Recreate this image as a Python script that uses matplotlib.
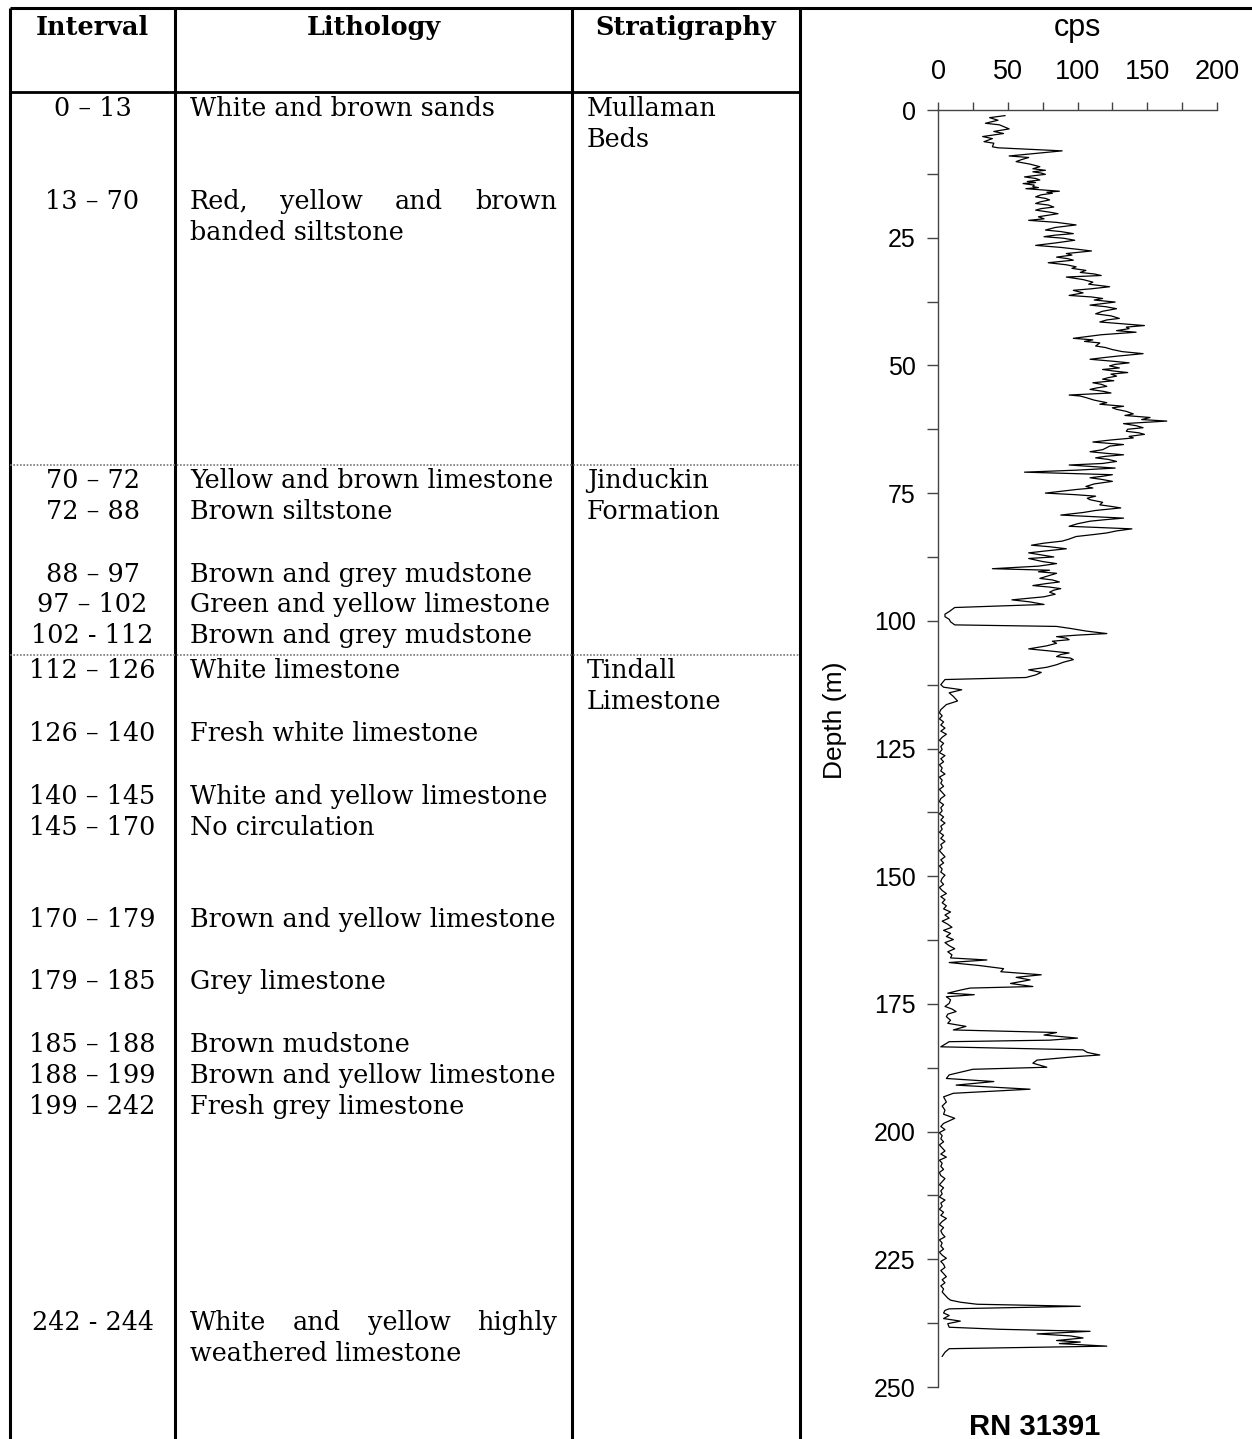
import matplotlib
matplotlib.use("Agg")
import matplotlib.pyplot as plt
from matplotlib.ticker import MultipleLocator

W, H = 1252, 1439

# gamma log for bore RN 31391: depth (m) and count rate (cps)
DEPTH = [
    1.1, 1.5, 2.0, 2.6, 2.9, 3.7, 4.2, 4.6, 5.2, 5.6, 6.2, 6.5, 7.2, 7.4,
    8.0, 8.5, 9.0, 9.3, 9.7, 10.1, 10.6, 11.1, 11.5, 11.8, 12.1, 12.35, 12.6, 12.85, 13.1,
    13.4, 13.7, 14.0, 14.2, 14.4, 14.7, 15.0, 15.2, 15.4, 15.9, 16.1, 16.3, 16.6, 17.0, 17.3,
    17.6, 18.0, 18.3, 18.6, 19.0, 19.3, 19.6, 20.0, 20.3, 20.9, 21.3, 21.6, 22.0, 22.5, 23.0,
    23.5, 23.8, 24.2, 24.5, 24.8, 25.1, 25.5, 26.0, 26.5, 26.9, 27.3, 27.6, 28.1, 28.4, 28.8,
    29.1, 29.4, 29.9, 30.3, 30.7, 31.0, 31.4, 31.8, 32.1, 32.4, 32.7, 33.2, 33.7, 34.1, 34.6,
    35.0, 35.3, 35.8, 36.3, 36.6, 36.9, 37.2, 37.6, 38.2, 38.5, 38.9, 39.4, 39.9, 40.3, 40.8,
    41.1, 41.5, 42.2, 42.5, 42.8, 43.2, 43.5, 44.0,
    44.7, 45.0, 45.3, 45.6, 46.2, 46.5, 46.9, 47.3, 47.7, 48.2, 48.5, 48.8, 49.2, 49.5, 49.8,
    50.1, 50.5, 50.8, 51.1, 51.4, 51.7, 52.1, 52.4, 52.7, 53.0, 53.4, 53.7, 54.1, 54.4, 54.7,
    55.1, 55.4, 55.8, 56.0, 56.3, 56.8, 57.3, 57.6, 58.0, 58.3, 58.6, 59.0, 59.5, 59.8, 60.2,
    60.6, 60.9, 61.4, 61.8, 62.2, 62.5, 62.9, 63.2, 63.5, 63.9, 64.2, 64.6, 65.0, 65.5, 65.8,
    66.1, 66.5, 66.9, 67.2, 67.5, 67.8, 68.1, 68.4, 68.8, 69.2, 69.5, 70.1, 70.5, 70.9, 71.4,
    71.7, 72.0, 72.3, 72.7, 73.2, 73.7, 74.0, 74.3, 75.0, 75.3, 75.6, 76.0, 76.3, 76.8, 77.3,
    77.6, 77.9, 78.4, 78.8, 79.3, 79.6, 79.9, 80.2, 80.5, 81.0, 81.5, 82.0, 82.4, 82.8, 83.1,
    83.5, 84.0, 84.4, 84.8, 85.2, 85.5, 85.9, 86.3, 86.7, 87.1, 87.5, 87.8, 88.4,
    88.8, 89.3, 89.8, 90.1, 90.4, 90.7, 91.2, 91.7, 92.0, 92.4, 92.7, 93.1, 93.4, 93.7, 94.0,
    94.4, 94.8, 95.3, 95.9, 96.3, 96.8, 97.4, 97.8, 98.2, 98.7, 99.2, 99.7, 100.2, 100.8,
    101.1, 101.5, 102.0, 102.5, 102.8, 103.1, 103.4, 103.7, 104.0, 104.4, 104.9, 105.5, 105.9,
    106.3, 106.6, 107.0, 107.3, 107.6, 108.1, 108.6, 109.1, 109.6, 110.1, 110.6, 111.1,
    111.5, 112.5, 113.0, 113.5, 114.1, 114.8, 115.7, 116.4, 117.4, 118.0,
    118.6, 119.2, 119.8, 120.4, 121.0, 121.6, 122.2, 122.8, 123.4, 124.0, 124.6, 125.2, 125.8,
    126.4, 127.0, 127.6, 128.2, 128.8, 129.4, 130.0, 130.6, 131.2, 131.8, 132.4, 133.0, 133.6,
    134.2, 134.8, 135.4, 136.0, 136.6, 137.2, 137.8, 138.4, 139.0, 139.6, 140.2, 140.8, 141.4,
    142.0, 142.6, 143.2, 143.8, 144.4, 145.0, 145.6, 146.2, 146.8, 147.4, 148.0, 148.6, 149.2,
    149.8, 150.4, 151.0, 151.6, 152.2, 152.8, 153.4, 154.0, 154.6, 155.2, 155.8,
    156.4, 157.0, 157.6, 158.2, 158.8, 159.4, 160.0, 160.6, 161.2, 161.8, 162.4, 163.0, 163.6,
    164.2, 164.8, 165.4,
    166.0, 166.4, 166.9, 167.5, 168.1, 168.7, 169.3, 169.8, 170.3, 171.0, 171.6, 171.9, 172.3,
    172.9, 173.2, 173.6, 174.2, 174.9, 175.5, 176.0, 176.5, 177.0, 177.5, 178.2, 178.8, 179.4,
    180.1, 180.6, 181.1, 181.7, 182.1, 182.4, 183.4, 184.0, 184.5, 185.0, 185.3, 186.0, 186.6,
    187.4, 187.8, 188.9, 189.6, 190.2, 190.9, 191.7, 192.5, 193.2, 194.2, 195.0, 195.8, 196.6,
    197.4, 198.4,
    199.0, 199.6, 200.2, 200.8, 201.4, 202.0, 202.6, 203.2, 203.8, 204.4, 205.0, 205.6, 206.2,
    206.8, 207.4, 208.0, 208.6, 209.2, 209.8, 210.4, 211.0, 211.6, 212.2, 212.8, 213.4, 214.0,
    214.6, 215.2, 215.8, 216.4, 217.0, 217.6, 218.2, 218.8, 219.4, 220.0, 220.6, 221.2, 221.8,
    222.4, 223.0, 223.6, 224.2, 224.8, 225.4, 226.0, 226.6, 227.2, 227.8, 228.4, 229.0, 229.6,
    230.2, 230.8, 231.4, 232.0, 232.6,
    233.0, 233.4, 233.8, 234.2, 234.7, 235.0, 235.5, 236.0, 236.6, 237.1, 237.6, 238.3, 238.7,
    239.1, 239.6, 240.0, 240.4, 240.9, 241.2, 241.5, 242.0, 242.5, 243.2, 243.6, 244.0,
]
CPS = [
    48, 37, 43, 34, 44, 51, 40, 47, 32, 39, 33, 40, 39, 43,
    89, 70, 51, 65, 60, 56, 66, 73, 68, 77, 68, 74, 77, 69, 62,
    70, 73, 64, 70, 61, 69, 68, 72, 63, 87, 78, 82, 74, 70, 77,
    80, 73, 70, 79, 83, 74, 70, 80, 86, 72, 76, 65, 85, 99, 84,
    77, 88, 97, 84, 76, 90, 98, 85, 70, 88, 101, 110, 92, 96, 85,
    93, 97, 79, 92, 99, 96, 106, 102, 112, 117, 92, 104, 111, 108, 123,
    110, 97, 104, 94, 110, 118, 112, 127, 109, 120, 128, 118, 113, 124, 130,
    121, 116, 148, 135, 137, 128, 142, 117,
    97, 111, 105, 116, 113, 120, 125, 132, 147, 128, 118, 109, 126, 137, 127,
    123, 130, 118, 126, 136, 124, 128, 122, 118, 126, 111, 117, 121, 114, 109,
    119, 124, 94, 102, 106, 112, 121, 116, 133, 125, 128, 135, 140, 134, 152,
    146, 164, 133, 142, 147, 136, 135, 144, 148, 137, 140, 124, 111, 133, 123,
    121, 118, 109, 120, 133, 120, 113, 122, 128, 118, 94, 127, 100, 62, 125,
    118, 109, 117, 125, 112, 106, 111, 99, 77, 98, 113, 107, 109, 118, 116,
    124, 131, 113, 104, 88, 110, 133, 120, 109, 100, 94, 139, 128, 121, 112,
    99, 94, 89, 76, 67, 80, 92, 78, 65, 74, 83, 65, 75,
    85, 72, 39, 80, 72, 85, 79, 73, 82, 87, 78, 68, 80, 88, 83,
    80, 84, 76, 53, 66, 76, 12, 10, 8, 5, 5, 8, 9, 12,
    85, 95, 106, 121, 100, 85, 92, 94, 82, 85, 78, 65, 80,
    94, 88, 85, 95, 97, 90, 85, 78, 65, 74, 70, 63,
    5, 2, 4, 17, 8, 11, 14, 6, 2, 1,
    3, 1, 4, 2, 5, 2, 6, 3, 1, 4, 2, 3, 1,
    5, 2, 4, 1, 3, 2, 5, 1, 3, 2, 4, 1,
    3, 5, 2, 1, 4, 2, 3, 1, 4, 2, 5, 2, 3,
    1, 4, 2, 5, 2, 3, 1, 3, 5, 2, 4, 1, 3,
    2, 5, 3, 2, 4, 1, 3, 6, 2, 5, 3, 6,
    4, 9, 5, 8, 3, 7, 10, 4, 9, 6, 11, 5, 8,
    12, 7, 10,
    9, 35, 8, 30, 47, 45, 74, 56, 66, 52, 68, 23, 16,
    7, 26, 6, 9, 8, 5, 10, 13, 7, 6, 9, 7, 20,
    11, 85, 76, 100, 80, 8, 2, 104, 107, 116, 100, 71, 68,
    78, 25, 8, 6, 40, 13, 66, 11, 4, 6, 3, 5, 4,
    12, 4,
    2, 5, 1, 3, 2, 4, 1, 3, 5, 2, 6, 1, 3,
    2, 4, 1, 2, 5, 3, 1, 4, 2, 3, 1, 5, 2,
    3, 1, 4, 2, 6, 3, 1, 4, 2, 3, 5, 1, 3,
    2, 4, 1, 3, 6, 2, 4, 5, 2, 4, 6, 3, 5,
    2, 4, 3, 5, 7,
    9, 16, 28, 102, 8, 5, 4, 8, 4, 16, 7, 8, 44,
    109, 71, 95, 104, 85, 102, 87, 121, 8, 5, 4, 3,
]

HEADERS = ["Interval", "Lithology", "Stratigraphy"]
INTERVALS = [
    "0 – 13", "13 – 70", "70 – 72", "72 – 88", "88 – 97", "97 – 102", "102 - 112",
    "112 – 126", "126 – 140", "140 – 145", "145 – 170", "170 – 179", "179 – 185",
    "185 – 188", "188 – 199", "199 – 242", "242 - 244",
]
LITHOLOGY = [
    "White and brown sands",
    "Red, yellow and brown\nbanded siltstone",
    "Yellow and brown limestone",
    "Brown siltstone",
    "Brown and grey mudstone",
    "Green and yellow limestone",
    "Brown and grey mudstone",
    "White limestone",
    "Fresh white limestone",
    "White and yellow limestone",
    "No circulation",
    "Brown and yellow limestone",
    "Grey limestone",
    "Brown mudstone",
    "Brown and yellow limestone",
    "Fresh grey limestone",
    "White and yellow highly\nweathered limestone",
]
# stratigraphic unit and the interval row it starts on
STRATIGRAPHY = ["Mullaman\nBeds", "Jinduckin\nFormation", "Tindall\nLimestone"]
STRAT_START = [0, 2, 7]
WELL = "RN 31391"

# --- page layout (pixels) ---
COL_X = [10, 175, 572, 800]
ROW_BASE = [116, 209, 488, 519, 582, 612, 643, 678, 741, 804, 835, 927, 989,
            1052, 1083, 1114, 1330]
LINE_H = 31
SERIF = "DejaVu Serif"
FS = 18.4
SANS = "Liberation Sans"

fig = plt.figure(figsize=(W / 100, H / 100), dpi=100)
page = fig.add_axes([0, 0, 1, 1])
page.set_xlim(0, W)
page.set_ylim(H, 0)
page.axis("off")

# table frame
page.plot([COL_X[0], W], [8, 8], color="black", lw=2.2, solid_capstyle="butt")
for x in COL_X:
    page.plot([x, x], [8, H], color="black", lw=2.2, solid_capstyle="butt")
page.plot([COL_X[0], COL_X[3]], [92, 92], color="black", lw=2.0)
for y in (465, 655):
    page.plot([COL_X[0], COL_X[3]], [y, y], color="#777777", lw=1.2, ls=(0, (1, 1)))

for i, h in enumerate(HEADERS):
    page.text((COL_X[i] + COL_X[i + 1]) / 2, 35, h, ha="center", va="baseline",
              family=SERIF, fontsize=FS, fontweight="bold")

renderer = fig.canvas.get_renderer()


def justified(words, x0, x1, y):
    arts = [page.text(0, y, w, ha="left", va="baseline", family=SERIF, fontsize=FS)
            for w in words]
    widths = [a.get_window_extent(renderer).width for a in arts]
    gap = (x1 - x0 - sum(widths)) / (len(words) - 1)
    x = x0
    for a, w in zip(arts, widths):
        a.set_x(x)
        x += w + gap


for i, (iv, lith) in enumerate(zip(INTERVALS, LITHOLOGY)):
    y = ROW_BASE[i]
    page.text((COL_X[0] + COL_X[1]) / 2, y, iv, ha="center", va="baseline",
              family=SERIF, fontsize=FS)
    lines = lith.split("\n")
    if len(lines) > 1:
        justified(lines[0].split(), 190, 557, y)
        page.text(190, y + LINE_H, lines[1], ha="left", va="baseline",
                  family=SERIF, fontsize=FS)
    else:
        page.text(190, y, lith, ha="left", va="baseline", family=SERIF, fontsize=FS)

for name, row in zip(STRATIGRAPHY, STRAT_START):
    for k, part in enumerate(name.split("\n")):
        page.text(587, ROW_BASE[row] + k * LINE_H, part, ha="left", va="baseline",
                  family=SERIF, fontsize=FS)

# --- gamma log ---
ax = fig.add_axes([938 / W, 1 - 1387 / H, (1217 - 938) / W, (1387 - 110) / H])
ax.plot(CPS, DEPTH, color="black", lw=0.9)
ax.set_xlim(0, 200)
ax.set_ylim(250, 0)
for s in ("right", "bottom"):
    ax.spines[s].set_visible(False)
for s in ("left", "top"):
    ax.spines[s].set_color("#444444")
    ax.spines[s].set_linewidth(1.0)
ax.xaxis.tick_top()
ax.xaxis.set_major_locator(MultipleLocator(50))
ax.xaxis.set_minor_locator(MultipleLocator(25))
ax.yaxis.set_major_locator(MultipleLocator(25))
ax.yaxis.set_minor_locator(MultipleLocator(12.5))
ax.tick_params(axis="x", which="both", direction="out", length=6, width=1,
               color="#444444", labelsize=19.5, pad=12)
ax.tick_params(axis="y", which="both", direction="out", length=8, width=1,
               color="#444444", labelsize=18, pad=8)
for lab in ax.get_xticklabels() + ax.get_yticklabels():
    lab.set_family(SANS)

fig.text(1077 / W, 1 - 28 / H, "cps", ha="center", va="center",
         family=SANS, fontsize=22)
fig.text(835 / W, 1 - 720 / H, "Depth (m)", ha="center", va="center", rotation=90,
         family=SANS, fontsize=19)
fig.text(1035 / W, 1 - 1427 / H, WELL, ha="center", va="center",
         family=SANS, fontsize=21, fontweight="bold")

fig.savefig("out.png", dpi=100)
